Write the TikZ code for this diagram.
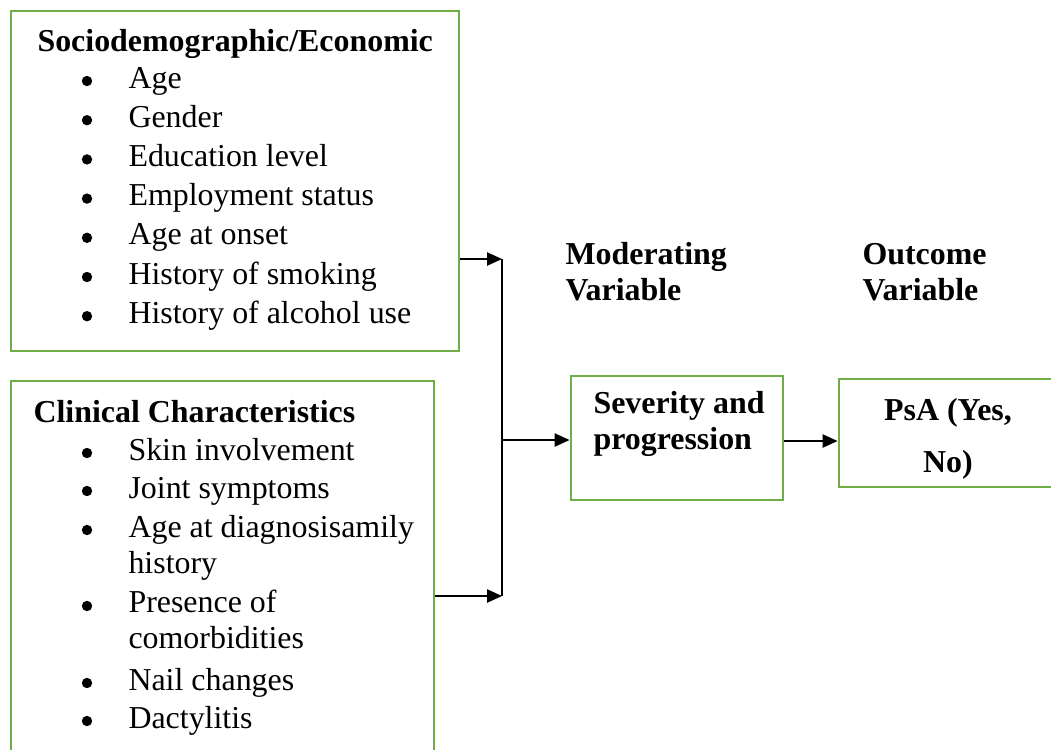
\documentclass[tikz,border=0pt]{standalone}
\usepackage{fontspec}
\setmainfont{Liberation Serif}
\usetikzlibrary{arrows.meta,fit}
\definecolor{boxgreen}{HTML}{70AD47}
\tikzset{
  framebox/.style={draw=boxgreen, line width=1.1pt, inner sep=0pt},
  hd/.style={font=\fontsize{12}{13.5}\selectfont\bfseries, anchor=base west, inner sep=0pt, align=left},
  itm/.style={anchor=base west, inner sep=0pt, align=left},
  bul/.style={circle, fill, inner sep=0pt, minimum size=3.9pt},
  arr/.style={-{Triangle[length=5.6pt,width=5pt]}, line width=0.45pt}
}
\begin{document}
\begin{tikzpicture}[x=0.376pt, y=-0.376pt, font=\fontsize{12}{13.5}\selectfont]
  \useasboundingbox (0,0) rectangle (1051,749);
  \clip (0,0) rectangle (1051,749);
  % frames
  \node[framebox, fit={(11,11) (459,351)}] (socio) {};
  \node[framebox, fit={(11,381) (434,780)}] (clin) {};
  \node[framebox, fit={(571,376) (783,500)}] (sev) {};
  \node[framebox, fit={(839,379) (1080,487)}] (psa) {};
  % sociodemographic list
  \node[hd] (sociot) at (37,51) {Sociodemographic/Economic};
  \foreach \txt [count=\i] in {Age, Gender, Education level, Employment status,
      Age at onset, History of smoking, History of alcohol use} {
    \node[bul] (sb\i) at (87,{81+39.2*(\i-1)}) {};
    \node[itm] (si\i) at (128,{88+39.2*(\i-1)}) {\txt};
  }
  % clinical list (last-line baselines for wrapped items)
  \node[hd] (clint) at (33,422) {Clinical Characteristics};
  \foreach \yb/\yy/\txt [count=\i] in {460/460/Skin involvement, 498/498/Joint symptoms,
      537/573/{Age at diagnosisamily\\history}, 613/648/{Presence of\\comorbidities},
      690/690/Nail changes, 728/728/Dactylitis} {
    \node[bul] (cb\i) at (87,\yb-7) {};
    \node[itm] (ci\i) at (128,\yy) {\txt};
  }
  % headings and box texts
  \node[hd] (modt) at (565,300) {Moderating\\Variable};
  \node[hd] (outt) at (862,300) {Outcome\\Variable};
  \node[hd, font=\fontsize{12}{13.2}\selectfont\bfseries] (sevt) at (593,449) {Severity and\\progression};
  \node[hd, anchor=base, align=center, font=\fontsize{12}{19.5}\selectfont\bfseries] (psat) at (948,472) {PsA (Yes,\\No)};
  % connectors
  \coordinate (j1) at (502,259);
  \coordinate (j2) at (502,596);
  \draw[arr] (socio.east |- j1) -- (j1);
  \draw[arr] (clin.east |- j2) -- (j2);
  \draw[line width=0.45pt] (j1) -- (j2);
  \draw[arr] (j1 |- 0,440) -- (sev.west |- 0,440);
  \draw[arr] (sev.east |- 0,441) -- (psa.west |- 0,441);
\end{tikzpicture}
\end{document}
